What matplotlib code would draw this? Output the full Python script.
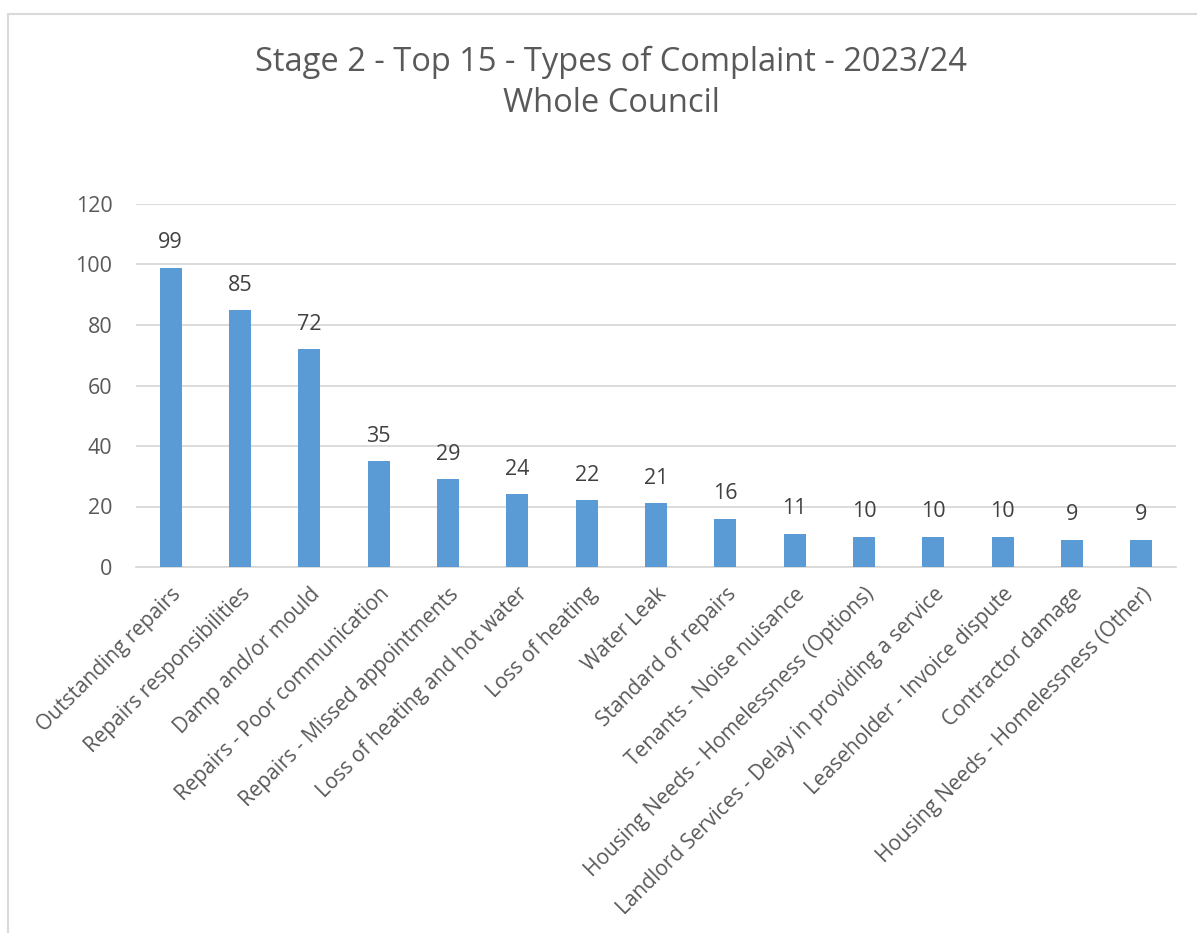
import matplotlib.pyplot as plt
from matplotlib.patches import Rectangle

categories = [
    "Outstanding repairs", "Repairs responsibilities", "Damp and/or mould",
    "Repairs - Poor communication", "Repairs - Missed appointments",
    "Loss of heating and hot water", "Loss of heating", "Water Leak",
    "Standard of repairs", "Tenants - Noise nuisance",
    "Housing Needs - Homelessness (Options)",
    "Landlord Services - Delay in providing a service",
    "Leaseholder - Invoice dispute", "Contractor damage",
    "Housing Needs - Homelessness (Other)",
]
counts = [99, 85, 72, 35, 29, 24, 22, 21, 16, 11, 10, 10, 10, 9, 9]
yticks = [0, 20, 40, 60, 80, 100, 120]

plt.rcParams['font.family'] = ['Open Sans', 'DejaVu Sans']
txt = '#595959'

fig = plt.figure(figsize=(11.97, 9.33), dpi=100)
ax = fig.add_axes([136/1197, 1 - 567/933, 1040/1197, 363/933])

x = range(len(categories))
ax.bar(x, counts, width=0.32, color='#5B9BD5', zorder=3)
for xi, v in zip(x, counts):
    ax.text(xi, v + 8.2, str(v), ha='center', va='center', fontsize=15.5, color='#404040')

ax.set_xlim(-0.5, len(categories) - 0.5)
ax.set_ylim(0, 120)
ax.set_yticks(yticks)
ax.set_yticklabels([str(t) for t in yticks], fontsize=15.5, color=txt)
ax.tick_params(axis='y', length=0, pad=17)
ax.set_xticks(list(x))
ax.set_xticklabels(categories, rotation=45, ha='right', rotation_mode='anchor',
                   fontsize=15, color=txt)
ax.tick_params(axis='x', length=0, pad=12)
ax.yaxis.grid(True, color='#D9D9D9', linewidth=1.3, zorder=0)
for s in ['top', 'right', 'left']:
    ax.spines[s].set_visible(False)
ax.spines['bottom'].set_color('#D9D9D9')
ax.spines['bottom'].set_linewidth(1.3)

fig.text(611/1197, 1 - 83/933, "Stage 2 - Top 15 - Types of Complaint - 2023/24\nWhole Council",
         ha='center', va='center', fontsize=23.5, color=txt, linespacing=1.3)

fig.patches.append(Rectangle((8/1197, -0.1), 1.2, (933 - 14)/933 + 0.1,
                             transform=fig.transFigure, fill=False,
                             edgecolor='#D9D9D9', linewidth=1.5))

fig.savefig('out.png', dpi=100)
